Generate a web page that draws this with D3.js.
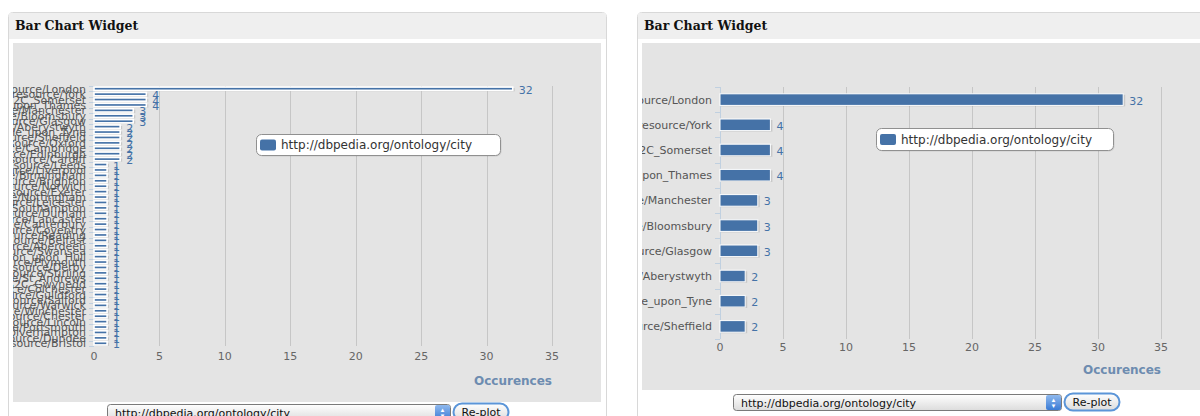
<!DOCTYPE html>
<html><head><meta charset="utf-8">
<script src="https://cdn.jsdelivr.net/npm/d3@7"></script>
<style>html,body{margin:0;padding:0;background:#fff;overflow:hidden}</style>
</head><body><svg id="c" width="1200" height="416"></svg>
<script>
const categories = [
 "http://dbpedia.org/resource/London","http://dbpedia.org/resource/York","http://dbpedia.org/resource/Bath%2C_Somerset",
 "http://dbpedia.org/resource/Kingston_upon_Thames","http://dbpedia.org/resource/Manchester","http://dbpedia.org/resource/Bloomsbury",
 "http://dbpedia.org/resource/Glasgow","http://dbpedia.org/resource/Aberystwyth","http://dbpedia.org/resource/Newcastle_upon_Tyne",
 "http://dbpedia.org/resource/Sheffield","http://dbpedia.org/resource/Oxford","http://dbpedia.org/resource/Cambridge",
 "http://dbpedia.org/resource/Edinburgh","http://dbpedia.org/resource/Cardiff","http://dbpedia.org/resource/Leeds",
 "http://dbpedia.org/resource/Liverpool","http://dbpedia.org/resource/Birmingham","http://dbpedia.org/resource/Brighton",
 "http://dbpedia.org/resource/Norwich","http://dbpedia.org/resource/Exeter","http://dbpedia.org/resource/Nottingham",
 "http://dbpedia.org/resource/Leicester","http://dbpedia.org/resource/Southampton","http://dbpedia.org/resource/Durham",
 "http://dbpedia.org/resource/Lancaster","http://dbpedia.org/resource/Canterbury","http://dbpedia.org/resource/Coventry",
 "http://dbpedia.org/resource/Reading","http://dbpedia.org/resource/Belfast","http://dbpedia.org/resource/Aberdeen",
 "http://dbpedia.org/resource/Swansea","http://dbpedia.org/resource/Kingston_upon_Hull","http://dbpedia.org/resource/Plymouth",
 "http://dbpedia.org/resource/Derby","http://dbpedia.org/resource/Stirling","http://dbpedia.org/resource/St_Andrews",
 "http://dbpedia.org/resource/Bangor%2C_Gwynedd","http://dbpedia.org/resource/Colchester","http://dbpedia.org/resource/Guildford",
 "http://dbpedia.org/resource/Salford","http://dbpedia.org/resource/Warwick","http://dbpedia.org/resource/Winchester",
 "http://dbpedia.org/resource/Chester","http://dbpedia.org/resource/Lincoln","http://dbpedia.org/resource/Portsmouth",
 "http://dbpedia.org/resource/Wolverhampton","http://dbpedia.org/resource/Dundee","http://dbpedia.org/resource/Bristol"
];
const values = [32,4,4,4,3,3,3,2,2,2,2,2,2,2,1,1,1,1,1,1,1,1,1,1,1,1,1,1,1,1,1,1,1,1,1,1,1,1,1,1,1,1,1,1,1,1,1,1];
const rightCount = 10;
const xTicks = [0,5,10,15,20,25,30,35];
const seriesName = "http://dbpedia.org/ontology/city";
const widgetTitle = "Bar Chart Widget";
const axisTitle = "Occurences";
const buttonText = "Re-plot";

const svg = d3.select("#c");
const defs = svg.append("defs");
const g1 = defs.append("linearGradient").attr("id","selg").attr("x1",0).attr("y1",0).attr("x2",0).attr("y2",1);
g1.append("stop").attr("offset","0").attr("stop-color","#ffffff");
g1.append("stop").attr("offset","1").attr("stop-color","#dcdcdc");
const g2 = defs.append("linearGradient").attr("id","stepg").attr("x1",0).attr("y1",0).attr("x2",0).attr("y2",1);
g2.append("stop").attr("offset","0").attr("stop-color","#8fb9ee");
g2.append("stop").attr("offset","1").attr("stop-color","#3a7bd5");

const BLUE = "#4572A7";
const FONT = "'DejaVu Sans', Verdana, sans-serif";

function panel(cfg){
  const n = cfg.cats.length;
  svg.append("rect").attr("x",cfg.fx+0.5).attr("y",12.5).attr("width",cfg.fw).attr("height",420)
    .attr("rx",4).attr("fill","#fff").attr("stroke","#d8d8d8");
  svg.append("rect").attr("x",cfg.fx+1).attr("y",13).attr("width",cfg.fw-1).attr("height",26).attr("fill","#efefef");
  svg.append("text").attr("x",cfg.fx+7).attr("y",30).text(widgetTitle)
    .attr("font-family","'DejaVu Serif', Georgia, serif").attr("font-weight","bold").attr("font-size",12.5).attr("fill","#111");
  const cid = "clip"+cfg.id;
  defs.append("clipPath").attr("id",cid).append("rect")
    .attr("x",cfg.ax).attr("y",cfg.ay).attr("width",cfg.aw).attr("height",cfg.ah);
  svg.append("rect").attr("x",cfg.ax).attr("y",cfg.ay).attr("width",cfg.aw).attr("height",cfg.ah).attr("fill","#e4e4e4");
  const g = svg.append("g").attr("clip-path",`url(#${cid})`);

  const x = d3.scaleLinear().domain([0,35]).range([cfg.x0,cfg.x1]);
  const y = d3.scaleBand().domain(cfg.cats).range([cfg.y0,cfg.y1]);
  g.selectAll(".grid").data(xTicks.slice(1)).join("line")
    .attr("x1",d=>Math.round(x(d))+0.5).attr("x2",d=>Math.round(x(d))+0.5)
    .attr("y1",cfg.y0).attr("y2",cfg.y1).attr("stroke","#c6c6c6");
  g.append("line").attr("x1",cfg.x0+0.5).attr("x2",cfg.x0+0.5).attr("y1",cfg.y0).attr("y2",cfg.y1).attr("stroke","#C0D0E0");
  const bounds = d3.range(n+1).map(i=>cfg.y0 + i*y.step());
  g.selectAll(".tk").data(bounds).join("line")
    .attr("x1",cfg.x0-5).attr("x2",cfg.x0).attr("y1",d=>Math.round(d)+0.5).attr("y2",d=>Math.round(d)+0.5)
    .attr("stroke","#C0D0E0");
  g.selectAll(".cl").data(cfg.cats).join("text")
    .attr("x",cfg.x0-8).attr("y",d=>y(d)+y.bandwidth()/2+4).attr("text-anchor","end")
    .attr("font-family",FONT).attr("font-size",11).attr("fill",cfg.labelColor).text(d=>d);
  const bh = y.bandwidth()*cfg.barFrac;
  const data = cfg.cats.map((c,i)=>({c,v:cfg.vals[i]}));
  g.selectAll(".sh").data(data).join("rect")
    .attr("x",x(0)+1).attr("y",d=>y(d.c)+(y.bandwidth()-bh)/2+1).attr("width",d=>x(d.v)-x(0)+1).attr("height",bh)
    .attr("fill","#000").attr("opacity",0.12);
  g.selectAll(".bar").data(data).join("rect")
    .attr("x",x(0)).attr("y",d=>y(d.c)+(y.bandwidth()-bh)/2).attr("width",d=>x(d.v)-x(0)).attr("height",bh)
    .attr("fill",BLUE).attr("stroke","#fff").attr("stroke-width",cfg.barStroke);
  g.selectAll(".dl").data(data).join("text")
    .attr("x",d=>x(d.v)+6).attr("y",d=>y(d.c)+y.bandwidth()/2+5)
    .attr("font-family",FONT).attr("font-size",11).attr("fill",BLUE).text(d=>d.v);
  g.selectAll(".xl").data(xTicks).join("text")
    .attr("x",d=>x(d)).attr("y",cfg.tickY).attr("text-anchor","middle")
    .attr("font-family",FONT).attr("font-size",11).attr("fill","#666").text(d=>d);
  g.append("text").attr("x",cfg.x1).attr("y",cfg.titleY).attr("text-anchor","end")
    .attr("font-family",FONT).attr("font-size",12).attr("font-weight","bold").attr("fill","#6d8cb0").text(axisTitle);
  const L = cfg.leg;
  g.append("rect").attr("x",L.x+1.5).attr("y",L.y+1.5).attr("width",L.w).attr("height",L.h).attr("rx",5).attr("fill","#000").attr("opacity",0.1);
  g.append("rect").attr("x",L.x+0.5).attr("y",L.y+0.5).attr("width",L.w).attr("height",L.h).attr("rx",5)
    .attr("fill","#fff").attr("stroke","#909090");
  g.append("rect").attr("x",L.x+4).attr("y",L.y+L.h/2-5).attr("width",16).attr("height",11).attr("rx",2).attr("fill",BLUE);
  g.append("text").attr("x",L.x+25).attr("y",L.y+L.h/2+4.5).attr("font-family",FONT).attr("font-size",12)
    .attr("fill","#333").text(seriesName);
  const S = cfg.sel;
  svg.append("rect").attr("x",S.x+0.5).attr("y",S.y+0.5).attr("width",S.w).attr("height",16).attr("rx",3)
    .attr("fill","url(#selg)").attr("stroke","#7a7a7a");
  svg.append("rect").attr("x",S.x+S.w-15).attr("y",S.y+1).attr("width",15).attr("height",15).attr("rx",2).attr("fill","url(#stepg)");
  svg.append("text").attr("x",S.x+S.w-7.5).attr("y",S.y+8).attr("text-anchor","middle").attr("font-size",6).attr("fill","#fff").text("▲");
  svg.append("text").attr("x",S.x+S.w-7.5).attr("y",S.y+14).attr("text-anchor","middle").attr("font-size",6).attr("fill","#fff").text("▼");
  svg.append("text").attr("x",S.x+8).attr("y",S.y+12.5).attr("font-family",FONT).attr("font-size",11).attr("fill","#111").text(seriesName);
  svg.append("rect").attr("x",S.x+S.w+3.5).attr("y",S.y-0.5).attr("width",55).attr("height",17).attr("rx",8.5)
    .attr("fill","url(#selg)").attr("stroke","#5b95d8").attr("stroke-width",2);
  svg.append("text").attr("x",S.x+S.w+31).attr("y",S.y+12).attr("text-anchor","middle").attr("font-family",FONT)
    .attr("font-size",11).attr("fill","#111").text(buttonText);
}

panel({id:"L", fx:8, fw:598, ax:13, ay:43, aw:588, ah:359,
  cats:categories, vals:values, x0:94, x1:552, y0:86, y1:346, barFrac:0.6, barStroke:1.6, labelColor:"#555",
  tickY:360, titleY:385, leg:{x:256,y:134,w:244,h:21}, sel:{x:107,y:404,w:343}});
panel({id:"R", fx:637, fw:600, ax:642, ay:43, aw:600, ah:347,
  cats:categories.slice(0,rightCount), vals:values.slice(0,rightCount), x0:720, x1:1161, y0:87, y1:339, barFrac:0.46, barStroke:1, labelColor:"#555",
  tickY:351, titleY:374, leg:{x:876,y:128,w:237,h:22}, sel:{x:733,y:394,w:328}});
</script></body></html>
